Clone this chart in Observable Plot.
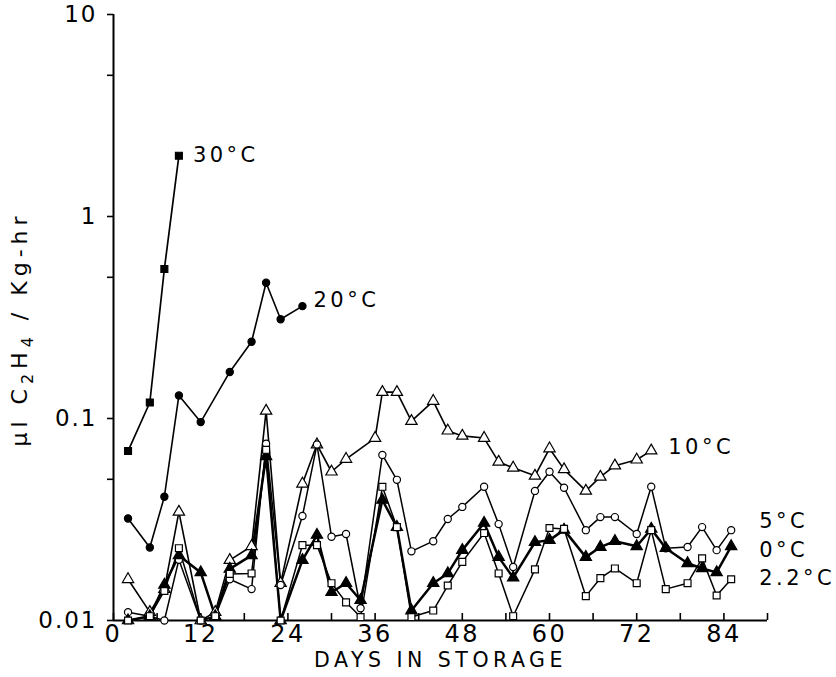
<!DOCTYPE html>
<html><head><meta charset="utf-8">
<script src="https://cdn.jsdelivr.net/npm/d3@7"></script>
<script src="https://cdn.jsdelivr.net/npm/@observablehq/plot@0.6"></script>
<style>
body{margin:0;background:#fff;}
svg{font-family:"DejaVu Sans",sans-serif;}
</style>
</head><body><div id="chart"></div>
<script>
// ---- data ----
const days30 = [2, 5, 7, 9];
const vals30 = [0.069, 0.12, 0.55, 2.0];

const days20 = [2, 5, 7, 9, 12, 16, 19, 21, 23, 26];
const vals20 = [0.032, 0.023, 0.041, 0.13, 0.096, 0.17, 0.24, 0.47, 0.31, 0.36];

const days10 = [2, 5, 7, 9, 12, 14, 16, 19, 21, 23, 26, 28, 30, 32, 36, 37, 39, 41, 44, 46, 48, 51, 53, 55, 58, 60, 62, 65, 67, 69, 72, 74];
const vals10 = [0.016, 0.011, 0.0143, 0.0345, 0.01, 0.011, 0.0199, 0.0233, 0.109, 0.0153, 0.0475, 0.0743, 0.0545, 0.063, 0.080, 0.135, 0.135, 0.097, 0.122, 0.087, 0.082, 0.080, 0.061, 0.057, 0.052, 0.071, 0.056, 0.0438, 0.0514, 0.0584, 0.0625, 0.0693];

const daysLow = [2, 5, 7, 9, 12, 14, 16, 19, 21, 23, 26, 28, 30, 32, 34, 37, 39, 41, 44, 46, 48, 51, 53, 55, 58, 60, 62, 65, 67, 69, 72, 74, 76, 79, 81, 83, 85];
const vals5 = [0.011, 0.0105, 0.01, 0.02, 0.01, 0.0105, 0.016, 0.0143, 0.075, 0.015, 0.0329, 0.0743, 0.026, 0.0268, 0.0115, 0.066, 0.0497, 0.022, 0.0247, 0.0318, 0.0365, 0.0459, 0.030, 0.0184, 0.0438, 0.0545, 0.0454, 0.028, 0.0325, 0.0325, 0.0268, 0.0459, 0.0228, 0.0231, 0.029, 0.0223, 0.028];
const vals0 = [0.01, 0.0105, 0.015, 0.021, 0.0173, 0.0105, 0.018, 0.021, 0.065, 0.01, 0.0199, 0.0265, 0.0138, 0.0153, 0.0126, 0.0395, 0.029, 0.0112, 0.0153, 0.0171, 0.0223, 0.0304, 0.0206, 0.0163, 0.0244, 0.025, 0.0281, 0.0206, 0.0231, 0.0247, 0.0233, 0.0284, 0.0228, 0.0192, 0.0181, 0.0173, 0.0233];
const vals22 = [0.01, 0.0105, 0.014, 0.0228, 0.01, 0.0105, 0.017, 0.0171, 0.07, 0.01, 0.0236, 0.0236, 0.0153, 0.0123, 0.0104, 0.0459, 0.029, 0.0104, 0.0112, 0.0149, 0.0195, 0.0271, 0.0171, 0.0105, 0.0179, 0.0287, 0.0284, 0.0132, 0.0162, 0.0181, 0.0153, 0.028, 0.0143, 0.0153, 0.0203, 0.0133, 0.016];

const yTicks = [0.01, 0.05, 0.1, 0.5, 1, 5, 10];
const yTickLabels = ["0.01", "0.05", "0.1", "0.5", "1", "5", "10"];
const xDomain = [0, 90];
const xTicks = [0, 12, 24, 36, 48, 60, 72, 84];
const xMinorTicks = [0, 6, 12, 18, 24, 30, 36, 42, 48, 54, 60, 66, 72, 78, 84, 90];
const xLabel = "DAYS IN STORAGE";

const series = [
  {name: "30°C", days: days30, vals: vals30, symbol: "square", filled: true, w: 1.7, r: 3.9, dx: 14, dy: 0},
  {name: "20°C", days: days20, vals: vals20, symbol: "circle", filled: true, w: 1.6, r: 3.6, dx: 11, dy: -6},
  {name: "10°C", days: days10, vals: vals10, symbol: "triangle", filled: false, w: 1.6, r: 4.2, dx: 17, dy: -3},
  {name: "5°C", days: daysLow, vals: vals5, symbol: "circle", filled: false, w: 1.5, r: 3.6, dx: 28, dy: -9},
  {name: "0°C", days: daysLow, vals: vals0, symbol: "triangle", filled: true, w: 2.5, r: 4.2, dx: 28, dy: 4},
  {name: "2.2°C", days: daysLow, vals: vals22, symbol: "square", filled: false, w: 1.5, r: 3.9, dx: 28, dy: -1}
];

const tables = series.map(s => s.days.map((d, i) => ({day: d, v: s.vals[i], name: s.name})));
const labelMap = new Map(yTicks.map((t, i) => [t, yTickLabels[i]]));

const marks = [
  Plot.ruleX([xDomain[0]], {strokeWidth: 2}),
  Plot.ruleY([yTicks[0]], {strokeWidth: 2}),
  Plot.axisY({ticks: yTicks, tickFormat: d => labelMap.get(d), tickSize: 6, tickPadding: 10, label: null, strokeWidth: 1.6, fontSize: 23}),
  Plot.axisX({ticks: xMinorTicks, tickSize: 7, dy: -7, tickFormat: () => "", label: null, strokeWidth: 1.6}),
  Plot.axisX({ticks: xTicks, tickSize: 0, tickPadding: 4, label: null, fontSize: 24}),
];
series.forEach((s, k) => {
  marks.push(Plot.line(tables[k], {x: "day", y: "v", stroke: "black", strokeWidth: s.w}));
});
series.forEach((s, k) => {
  marks.push(Plot.dot(tables[k], {x: "day", y: "v", symbol: s.symbol, r: s.r,
    fill: s.filled ? "black" : "white", stroke: "black", strokeWidth: 1.2}));
});
series.forEach((s, k) => {
  marks.push(Plot.text(tables[k].slice(-1), {x: "day", y: "v", text: "name", textAnchor: "start",
    dx: s.dx, dy: s.dy, fontSize: 21, fill: "black"}));
});
marks.push(Plot.text([xLabel], {frameAnchor: "bottom", dy: 46, fontSize: 20.5, fill: "black"}));

const plot = Plot.plot({
  width: 836, height: 677,
  marginLeft: 113, marginRight: 69, marginTop: 14, marginBottom: 57,
  style: {fontFamily: "'DejaVu Sans', sans-serif", color: "black", background: "white", overflow: "visible"},
  x: {domain: xDomain},
  y: {type: "log", domain: [yTicks[0], yTicks[yTicks.length - 1]]},
  marks
});
document.getElementById("chart").appendChild(plot);

const svg = d3.select(plot);
// letter spacing to mimic the wide lettering of the original
svg.selectAll('g[aria-label="y-axis tick label"] text').attr("letter-spacing", "2px");
svg.selectAll('g[aria-label="x-axis tick label"] text').attr("letter-spacing", "2.5px");
svg.selectAll('g[aria-label="text"] text').attr("letter-spacing", "3.5px");
svg.selectAll('g[aria-label="text"] text').filter(function() { return this.textContent === xLabel; }).attr("letter-spacing", "4.5px");

// y-axis title with subscripts
const t = svg.append("text")
  .attr("transform", "translate(27,329) rotate(-90)")
  .attr("text-anchor", "middle")
  .attr("font-size", 22)
  .attr("letter-spacing", "5px")
  .attr("fill", "black");
t.append("tspan").text("µl C");
t.append("tspan").attr("font-size", 16).attr("dy", 6).text("2");
t.append("tspan").attr("dy", -6).text("H");
t.append("tspan").attr("font-size", 16).attr("dy", 6).text("4");
t.append("tspan").attr("dy", -6).text(" / Kg-hr");
</script>
</body></html>
